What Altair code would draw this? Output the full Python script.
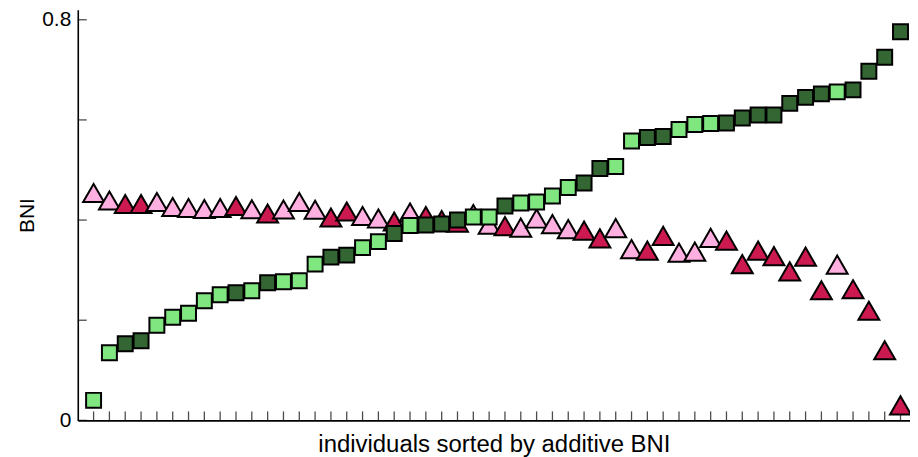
import altair as alt
import pandas as pd

individual = list(range(1, 53))
group = ["light", "light", "dark", "dark", "light", "light", "light", "light", "light", "dark",
         "light", "dark", "light", "light", "light", "dark", "dark", "light", "light", "dark",
         "light", "dark", "dark", "dark", "light", "light", "dark", "light", "light", "light",
         "light", "dark", "dark", "light", "light", "dark", "dark", "light", "light", "light",
         "dark", "dark", "dark", "dark", "dark", "dark", "dark", "light", "dark", "dark",
         "dark", "dark"]
additive_bni = [0.040, 0.135, 0.153, 0.159, 0.190, 0.206, 0.214, 0.239, 0.251, 0.255,
                0.259, 0.275, 0.277, 0.279, 0.312, 0.326, 0.330, 0.345, 0.357, 0.373,
                0.389, 0.390, 0.392, 0.400, 0.406, 0.406, 0.428, 0.434, 0.436, 0.448,
                0.465, 0.474, 0.503, 0.507, 0.558, 0.565, 0.567, 0.581, 0.591, 0.593,
                0.594, 0.604, 0.610, 0.610, 0.633, 0.645, 0.652, 0.656, 0.660, 0.697,
                0.725, 0.776]
other_bni = [0.454, 0.439, 0.432, 0.432, 0.436, 0.426, 0.424, 0.422, 0.424, 0.428,
             0.4215, 0.413, 0.421, 0.436, 0.4205, 0.405, 0.417, 0.408, 0.403, 0.397,
             0.415, 0.408, 0.400, 0.395, 0.412, 0.391, 0.388, 0.385, 0.403, 0.392,
             0.382, 0.379, 0.3635, 0.384, 0.342, 0.339, 0.3685, 0.335, 0.337, 0.3645,
             0.359, 0.312, 0.339, 0.328, 0.2975, 0.327, 0.260, 0.311, 0.262, 0.219,
             0.140, 0.030]
y_tick_values = [0.0, 0.2, 0.4, 0.6, 0.8]
y_label_values = [0.0, 0.8]

df = pd.DataFrame({"i": individual, "group": group, "add": additive_bni, "oth": other_bni})
ytk = pd.DataFrame({"v": y_tick_values})

FONT = "Liberation Sans"
xscale = alt.Scale(domain=[0, 52.6], nice=False, zero=False)
yscale = alt.Scale(domain=[0, 0.82], nice=False)

xaxis = alt.Axis(title="individuals sorted by additive BNI", labels=False, ticks=False, grid=False)
yaxis = alt.Axis(title="BNI", values=y_label_values, ticks=False, grid=False,
                 labelExpr="datum.value == 0 ? '0' : format(datum.value, '.1f')")

xt = alt.Chart(df).mark_tick(orient="vertical", size=9, yOffset=-4.5, thickness=1.3,
                             color="black").encode(
    x=alt.X("i:Q", scale=xscale, axis=xaxis),
    y=alt.Y(datum=0, scale=yscale, axis=yaxis),
)

yt = alt.Chart(ytk).mark_tick(orient="horizontal", size=9, xOffset=4.5, thickness=1.3,
                              color="black").encode(
    x=alt.X(datum=0, scale=xscale),
    y=alt.Y("v:Q", scale=yscale),
)

tri = alt.Chart(df).mark_point(shape="triangle-up", filled=True, size=440, stroke="black",
                               strokeWidth=2, opacity=1).encode(
    x=alt.X("i:Q", scale=xscale),
    y=alt.Y("oth:Q", scale=yscale),
    fill=alt.Fill("group:N", scale=alt.Scale(domain=["dark", "light"],
                                             range=["#CC1A50", "#FFB0E0"]), legend=None),
)

sq = alt.Chart(df).mark_point(shape="square", filled=True, size=225, stroke="black",
                              strokeWidth=2, opacity=1).encode(
    x=alt.X("i:Q", scale=xscale),
    y=alt.Y("add:Q", scale=yscale),
    fill=alt.Fill("group:N", scale=alt.Scale(domain=["dark", "light"],
                                             range=["#336633", "#80E680"]), legend=None),
)

chart = alt.layer(xt, yt, tri, sq).resolve_scale(fill="independent").properties(
    width=835, height=412,
    padding={"left": 70, "top": 1, "right": 0, "bottom": 40},
    autosize=alt.AutoSizeParams(type="none"),
).configure_view(strokeWidth=0).configure_axis(
    domainColor="black", domainWidth=1.6, labelFont=FONT, titleFont=FONT,
    labelColor="black", titleColor="black", titleFontWeight="normal",
).configure_axisX(
    titleFontSize=24, titleBaseline="alphabetic", titleY=31,
).configure_axisY(
    labelFontSize=21, labelPadding=7, titleFontSize=21, titleX=-44,
    titleBaseline="alphabetic",
)

chart.save("out.html", embed_options={"renderer": "svg", "actions": False})
